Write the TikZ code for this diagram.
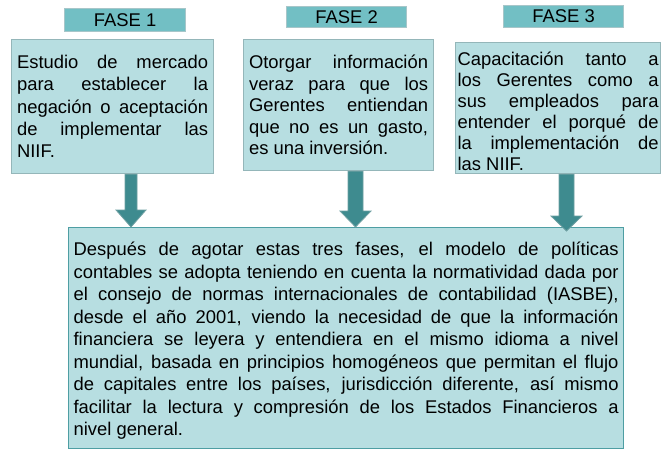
\documentclass[tikz,border=0pt]{standalone}
\usepackage{fontspec}
\setmainfont{Liberation Sans}
\tolerance=10000
\hbadness=10000
\definecolor{hdrfill}{HTML}{72BFC4}
\definecolor{hdrline}{HTML}{A7C6C9}
\definecolor{boxfill}{HTML}{B7DEE1}
\definecolor{boxline}{HTML}{94B6B9}
\definecolor{bigline}{HTML}{4E9EA3}
\definecolor{arrfill}{HTML}{3E8B8F}
\definecolor{arrline}{HTML}{6E9FA2}
\tikzset{
  hdr/.style={draw=hdrline, fill=hdrfill, line width=0.9pt, inner sep=0pt,
    anchor=north west, font=\fontsize{13.8pt}{16pt}\selectfont},
  txtbox/.style={draw=boxline, fill=boxfill, line width=0.9pt, anchor=north west,
    inner ysep=0pt, align=justify},
  bigbox/.style={txtbox, draw=bigline}
}
\tikzset{
  bigarrow/.style={draw=arrline, fill=arrfill, line width=0.6pt, line join=miter}
}
\begin{document}
\begin{tikzpicture}[x=0.75pt,y=-0.75pt]
\useasboundingbox[fill=white] (0,0) rectangle (668,450);
% headers
\node[hdr, minimum width=90.75pt, minimum height=17.25pt] (h1) at (64,8) {FASE 1};
\node[hdr, minimum width=90pt, minimum height=15.75pt] (h2) at (286,6) {FASE 2};
\node[hdr, minimum width=90pt, minimum height=16.5pt] (h3) at (503,5) {FASE 3};
% phase boxes
\node[txtbox, text width=143.25pt, inner xsep=4.1pt, text height=21.75pt, text depth=78.75pt,
  font=\fontsize{13.8pt}{16.7pt}\selectfont] (b1) at (11,39)
  {Estudio de mercado\linebreak para establecer la\linebreak negación o aceptación\linebreak de implementar las\linebreak NIIF.};
\node[txtbox, text width=134.25pt, inner xsep=4.1pt, text height=21.75pt, text depth=76.5pt,
  font=\fontsize{13.8pt}{16.1pt}\selectfont] (b2) at (243,39)
  {Otorgar información\linebreak veraz para que los\linebreak Gerentes entiendan\linebreak que no es un gasto,\linebreak es una inversión.};
\node[txtbox, text width=150.75pt, inner xsep=1.5pt, text height=17.25pt, text depth=81pt,
  font=\fontsize{13.8pt}{15.75pt}\selectfont] (b3) at (455,42)
  {Capacitación tanto a\linebreak los Gerentes como a\linebreak sus empleados para\linebreak entender el porqué de\linebreak la implementación de\linebreak las NIIF.};
% bottom box
\node[bigbox, text width=408.75pt, inner xsep=3.75pt, text height=21pt, text depth=144.75pt,
  font=\fontsize{13.8pt}{16.9pt}\selectfont] (b4) at (68,227)
  {Después de agotar estas tres fases, el modelo de políticas\linebreak
   contables se adopta teniendo en cuenta la normatividad dada por\linebreak
   el consejo de normas internacionales de contabilidad (IASBE),\linebreak
   desde el año 2001, viendo la necesidad de que la información\linebreak
   financiera se leyera y entendiera en el mismo idioma a nivel\linebreak
   mundial, basada en principios homogéneos que permitan el flujo\linebreak
   de capitales entre los países, jurisdicción diferente, así mismo\linebreak
   facilitar la lectura y compresión de los Estados Financieros a\linebreak
   nivel general.};
% arrows
\filldraw[bigarrow] (125,0 |- b1.south) -- (125,210) -- (116,210) -- (131,0 |- b4.north)
  -- (146,210) -- (137,210) -- (137,0 |- b1.south) -- cycle;
\filldraw[bigarrow] (348,0 |- b2.south) -- (348,211) -- (340,211) -- (355.5,0 |- b4.north)
  -- (371,211) -- (363,211) -- (363,0 |- b2.south) -- cycle;
\filldraw[bigarrow] (559,0 |- b3.south) -- (559,216) -- (551,216) -- (566.5,231)
  -- (582,216) -- (574,216) -- (574,0 |- b3.south) -- cycle;
\end{tikzpicture}
\end{document}
